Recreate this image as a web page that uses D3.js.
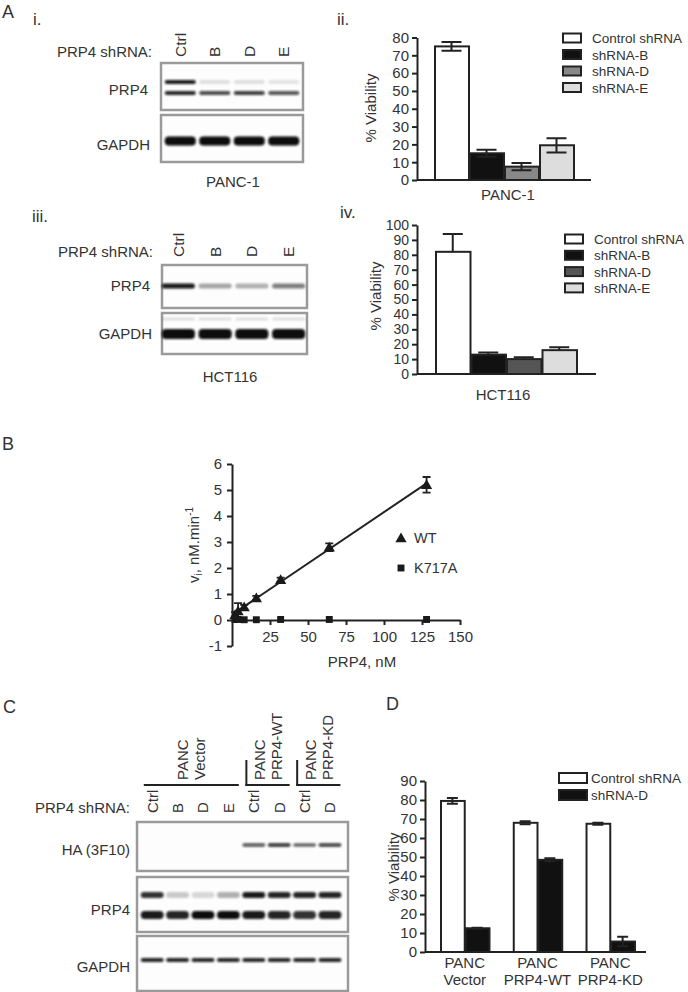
<!DOCTYPE html>
<html>
<head>
<meta charset="utf-8">
<script src="https://cdn.jsdelivr.net/npm/d3@7"></script>
<style>
body { margin: 0; background: #fff; }
text { font-family: "Liberation Sans", Arial, sans-serif; fill: #333; }
</style>
</head>
<body>
<svg id="fig" width="688" height="992"></svg>
<script>
// ---- data ----
const laneNamesA = ['Ctrl', 'B', 'D', 'E']
const legendA = ['Control shRNA', 'shRNA-B', 'shRNA-D', 'shRNA-E']
const panc1Viability = [75, 15, 7.5, 19.5]
const panc1Err = [2.5, 2, 2, 4]
const hctViability = [82, 13, 10, 16]
const hctErr = [12, 1.5, 1.3, 2]
const ticksA2 = [0, 10, 20, 30, 40, 50, 60, 70, 80]
const ticksA4 = [0, 10, 20, 30, 40, 50, 60, 70, 80, 90, 100]

// band intensities for blots (0..1)
const pancPrp4Upper = [0.95, 0.12, 0.12, 0.1]
const pancPrp4Lower = [0.9, 0.75, 0.8, 0.7]
const pancGapdh = [1, 1, 1, 1]
const hctPrp4 = [0.95, 0.35, 0.3, 0.5]
const hctGapdhFaint = [0.12, 0.12, 0.12, 0.12]
const hctGapdh = [1, 1, 1, 1]

const prp4Conc = [2, 4, 8, 16, 32, 64, 128]
const wtRate = [0.2, 0.35, 0.5, 0.85, 1.55, 2.8, 5.2]
const wtErr = [0.1, 0.3, 0.08, 0.08, 0.08, 0.15, 0.3]
const k717aRate = [0.02, 0.02, 0.01, 0.01, 0.02, 0.02, 0.02]
const ticksBx = [25, 50, 75, 100, 125, 150]
const ticksBy = [-1, 0, 1, 2, 3, 4, 5, 6]

const laneNamesC = ['Ctrl', 'B', 'D', 'E', 'Ctrl', 'D', 'Ctrl', 'D']
const groupsC = [['PANC', 'Vector'], ['PANC', 'PRP4-WT'], ['PANC', 'PRP4-KD']]
const groupLanesC = [[0, 3], [4, 5], [6, 7]]
const cHA = [0, 0, 0, 0, 0.7, 0.85, 0.6, 0.8]
const cPrp4Upper = [0.85, 0.2, 0.15, 0.3, 0.95, 0.9, 0.9, 0.9]
const cPrp4Lower = [0.95, 0.9, 1, 1, 0.95, 0.9, 0.85, 0.9]
const cGapdh = [0.9, 0.9, 0.9, 0.9, 0.9, 0.9, 0.9, 0.9]

const groupsD = ['PANC\nVector', 'PANC\nPRP4-WT', 'PANC\nPRP4-KD']
const legendD = ['Control shRNA', 'shRNA-D']
const dControl = [79.5, 68, 67.5]
const dControlErr = [1.5, 0.8, 0.5]
const dShD = [12.5, 48.5, 5.5]
const dShDErr = [0.3, 0.8, 2.5]
const ticksD = [0, 10, 20, 30, 40, 50, 60, 70, 80, 90]

// ---- drawing ----
const svg = d3.select('#fig')
const defs = svg.append('defs')
defs.append('filter').attr('id', 'blur')
  .attr('x', '-20%').attr('y', '-150%').attr('width', '140%').attr('height', '400%')
  .append('feGaussianBlur').attr('stdDeviation', 0.9)

function txt (x, y, s, size, anchor) {
  return svg.append('text').attr('x', x).attr('y', y)
    .attr('font-size', size).attr('text-anchor', anchor || 'start').text(s)
}

function vtxt (cx, bottom, s, size) {
  // rotated text reading upwards, bottom aligned
  svg.append('text')
    .attr('transform', 'translate(' + (cx + size * 0.36) + ',' + bottom + ') rotate(-90)')
    .attr('font-size', size).text(s)
}

function styleAxis (a, fs) {
  a.select('.domain').attr('stroke', '#222').attr('stroke-width', 2)
  a.selectAll('.tick line').attr('stroke', '#222').attr('stroke-width', 2)
  a.selectAll('.tick text').attr('font-size', fs || 14.5).attr('fill', '#333')
    .attr('font-family', '"Liberation Sans", Arial, sans-serif')
}

// panel letters
txt(2, 18, 'A', 18)
txt(33, 25, 'i.', 17)
txt(337, 25, 'ii.', 17)
txt(32, 222, 'iii.', 17)
txt(340, 218, 'iv.', 17)
txt(2, 450, 'B', 18)
txt(3, 713, 'C', 18)
txt(386, 710, 'D', 18)

// western blot box with bands
function blot (x, y, w, h, lanes, bands, range) {
  const lx = d3.scaleBand().domain(d3.range(lanes.length)).range(range).paddingInner(0.1).paddingOuter(0.05)
  svg.append('rect').attr('x', x).attr('y', y).attr('width', w).attr('height', h)
    .attr('fill', '#fdfdfd').attr('stroke', '#9a9a9a').attr('stroke-width', 2.5)
  bands.forEach(function (b) {
    svg.append('g').attr('filter', 'url(#blur)')
      .selectAll('rect').data(b.vals).enter().append('rect')
      .attr('x', function (d, i) { return lx(i) })
      .attr('y', y + b.y - b.h / 2)
      .attr('width', lx.bandwidth())
      .attr('height', b.h)
      .attr('rx', Math.min(b.h / 2, 4))
      .attr('fill', '#0a0a0a')
      .attr('opacity', function (d) { return d })
  })
  return lx
}

// A i
txt(152, 57, 'PRP4 shRNA:', 15, 'end')
let lxA1 = blot(161, 63, 142, 47, laneNamesA, [
  { y: 19, h: 4, vals: pancPrp4Upper },
  { y: 30, h: 4, vals: pancPrp4Lower }
], [163, 301])
blot(161, 115, 142, 47, laneNamesA, [{ y: 26, h: 9, vals: pancGapdh }], [163, 301])
laneNamesA.forEach(function (n, i) { vtxt(lxA1(i) + lxA1.bandwidth() / 2, 57, n, 15.5) })
txt(148, 95, 'PRP4', 15, 'end')
txt(150, 150, 'GAPDH', 15, 'end')
txt(233, 187, 'PANC-1', 15, 'middle')

// A iii
txt(153, 257, 'PRP4 shRNA:', 15, 'end')
let lxA3 = blot(162, 265, 145, 43, laneNamesA, [{ y: 21, h: 5, vals: hctPrp4 }], [160, 307])
blot(162, 313, 145, 41, laneNamesA, [
  { y: 6, h: 3, vals: hctGapdhFaint },
  { y: 21, h: 10, vals: hctGapdh }
], [160, 307])
laneNamesA.forEach(function (n, i) { vtxt(lxA3(i) + lxA3.bandwidth() / 2, 257, n, 15.5) })
txt(150, 291, 'PRP4', 15, 'end')
txt(152, 339, 'GAPDH', 15, 'end')
txt(230, 382, 'HCT116', 15, 'middle')

function errPath (cx, top, bot, cap, both) {
  let p = 'M' + cx + ',' + bot + 'V' + top + 'M' + (cx - cap / 2) + ',' + top + 'H' + (cx + cap / 2)
  if (both) p += 'M' + (cx - cap / 2) + ',' + bot + 'H' + (cx + cap / 2)
  return p
}

// bar chart helper
function barChart (o) {
  const y = d3.scaleLinear().domain([0, o.max]).range([o.y0, o.y1])
  const gx = d3.scaleBand().domain(o.groups).range(o.xr).paddingInner(o.pad || 0)
  const sx = d3.scaleBand().domain(o.series).range([0, gx.bandwidth()])
  const g = svg.append('g')
  g.append('line').attr('x1', o.ax).attr('x2', o.xEnd).attr('y1', y(0)).attr('y2', y(0))
    .attr('stroke', '#222').attr('stroke-width', 2)
  o.series.forEach(function (s, si) {
    const sg = g.append('g')
    const data = o.groups.map(function (gr, gi) { return { gr: gr, v: o.values[si][gi], e: o.errors[si][gi] } })
    function ep (d) {
      const cx = gx(d.gr) + sx(s) + sx.bandwidth() / 2
      return errPath(cx, y(d.v + d.e), o.errUp ? y(d.v) : y(d.v - d.e), o.cap, !o.errUp)
    }
    sg.selectAll('rect').data(data).enter().append('rect')
      .attr('x', function (d) { return gx(d.gr) + sx(s) + 1 })
      .attr('width', sx.bandwidth() - 1)
      .attr('y', function (d) { return y(d.v) })
      .attr('height', function (d) { return y(0) - y(d.v) })
      .attr('fill', o.fills[si]).attr('stroke', '#222').attr('stroke-width', 2)
    sg.selectAll('path').data(data).enter().append('path')
      .attr('d', ep)
      .attr('stroke', '#222').attr('stroke-width', 2).attr('fill', 'none')
  })
  const axis = g.append('g').attr('transform', 'translate(' + o.ax + ',0)')
    .call(d3.axisLeft(y).tickValues(o.ticks).tickSize(5).tickSizeOuter(0).tickPadding(3))
  styleAxis(axis, o.tickFont)
  svg.append('text')
    .attr('transform', 'translate(' + o.ylx + ',' + o.yly + ') rotate(-90)')
    .attr('font-size', 15).attr('text-anchor', 'middle').text('% Viability')
  return gx
}

function legend (x, y0, step, names, fills, w, h, gap) {
  names.forEach(function (n, i) {
    svg.append('rect').attr('x', x).attr('y', y0 + i * step - h / 2).attr('width', w).attr('height', h)
      .attr('fill', fills[i]).attr('stroke', '#222').attr('stroke-width', 2)
    txt(x + w + gap, y0 + i * step + 5, n, 13.5)
  })
}

// A ii
const fillsA2 = ['#fff', '#111', '#888', '#ddd']
barChart({
  groups: ['PANC-1'], series: legendA, values: panc1Viability.map(function (v) { return [v] }),
  errors: panc1Err.map(function (v) { return [v] }), fills: fillsA2,
  max: 80, ticks: ticksA2, y0: 180, y1: 37.5, xr: [434, 574], ax: 417, xEnd: 591, cap: 20,
  ylx: 376, yly: 108, tickFont: 15
})
legend(563, 38, 16.5, legendA, fillsA2, 18, 9, 11)
txt(508, 200, 'PANC-1', 15, 'middle')

// A iv
const fillsA4 = ['#fff', '#111', '#555', '#ddd']
barChart({
  groups: ['HCT116'], series: legendA, values: hctViability.map(function (v) { return [v] }),
  errors: hctErr.map(function (v) { return [v] }), fills: fillsA4,
  max: 100, ticks: ticksA4, y0: 374, y1: 225, xr: [435, 577], ax: 417, xEnd: 596, cap: 20, errUp: true,
  ylx: 381, yly: 296, tickFont: 14
})
legend(565, 239, 16.3, legendA, fillsA4, 18, 9, 11)
txt(503, 400, 'HCT116', 15, 'middle')

// B
const bx = d3.scaleLinear().domain([0, 150]).range([232, 460])
const by = d3.scaleLinear().domain([-1, 6]).range([646, 464])
const gb = svg.append('g')
const yAxB = gb.append('g').attr('transform', 'translate(232,0)')
  .call(d3.axisLeft(by).tickValues(ticksBy).tickFormat(function (d) { return String(d) })
    .tickSize(5).tickSizeOuter(0).tickPadding(5))
const xAxB = gb.append('g').attr('transform', 'translate(0,' + by(0) + ')')
  .call(d3.axisBottom(bx).tickValues(ticksBx).tickSize(5).tickSizeOuter(0).tickPadding(6))
styleAxis(yAxB, 15)
styleAxis(xAxB, 15)
// linear fit for WT
const mx = d3.mean(prp4Conc)
const my = d3.mean(wtRate)
const slope = d3.sum(prp4Conc, function (c, i) { return (c - mx) * (wtRate[i] - my) }) /
  d3.sum(prp4Conc, function (c) { return (c - mx) * (c - mx) })
const icpt = my - slope * mx
const xmin = d3.min(prp4Conc)
const xmax = d3.max(prp4Conc)
gb.append('line').attr('x1', bx(xmin)).attr('x2', bx(xmax))
  .attr('y1', by(icpt + slope * xmin)).attr('y2', by(icpt + slope * xmax))
  .attr('stroke', '#222').attr('stroke-width', 2)
gb.selectAll('path.werr').data(prp4Conc).enter().append('path')
  .attr('d', function (c, i) {
    return errPath(bx(c), by(wtRate[i] + wtErr[i]), by(wtRate[i] - wtErr[i]), 8, true)
  })
  .attr('stroke', '#222').attr('stroke-width', 1.8).attr('fill', 'none')
const tri = d3.symbol().type(d3.symbolTriangle).size(55)
const sq = d3.symbol().type(d3.symbolSquare).size(48)
gb.selectAll('path.k').data(prp4Conc).enter().append('path')
  .attr('transform', function (c, i) { return 'translate(' + bx(c) + ',' + by(k717aRate[i]) + ')' })
  .attr('d', sq).attr('fill', '#1a1a1a')
gb.selectAll('path.w').data(prp4Conc).enter().append('path')
  .attr('transform', function (c, i) { return 'translate(' + bx(c) + ',' + (by(wtRate[i]) + 1) + ')' })
  .attr('d', tri).attr('fill', '#1a1a1a')
gb.append('path').attr('transform', 'translate(401,539)').attr('d', tri).attr('fill', '#1a1a1a')
txt(414, 543, 'WT', 14.5)
gb.append('path').attr('transform', 'translate(401,568)').attr('d', sq).attr('fill', '#1a1a1a')
txt(414, 573, 'K717A', 14.5)
txt(362, 667, 'PRP4, nM', 15, 'middle')
const ylb = svg.append('text').attr('transform', 'translate(199,545) rotate(-90)')
  .attr('font-size', 15).attr('text-anchor', 'middle')
ylb.append('tspan').text('v')
ylb.append('tspan').attr('font-size', 10).attr('dy', 3).text('i')
ylb.append('tspan').attr('dy', -3).text(', nM.min')
ylb.append('tspan').attr('font-size', 10).attr('dy', -6).text('-1')

// C
txt(130, 813, 'PRP4 shRNA:', 15, 'end')
const rangeC = [139.5, 342.7]
const lxC = blot(137, 822, 211, 49, laneNamesC, [{ y: 23, h: 3.5, vals: cHA }], rangeC)
blot(137, 877, 211, 55, laneNamesC, [
  { y: 18, h: 6, vals: cPrp4Upper },
  { y: 38, h: 8, vals: cPrp4Lower }
], rangeC)
blot(137, 936, 211, 55, laneNamesC, [{ y: 24, h: 4, vals: cGapdh }], rangeC)
laneNamesC.forEach(function (n, i) { vtxt(lxC(i) + lxC.bandwidth() / 2, 813, n, 15) })
txt(130, 855, 'HA (3F10)', 15, 'end')
txt(130, 915, 'PRP4', 15, 'end')
txt(130, 972, 'GAPDH', 15, 'end')
groupLanesC.forEach(function (gl, gi) {
  const x1 = lxC(gl[0]) + 3
  const x2 = lxC(gl[1]) + lxC.bandwidth() - 1
  svg.append('line').attr('x1', x1).attr('x2', x2).attr('y1', 785).attr('y2', 785)
    .attr('stroke', '#222').attr('stroke-width', 2.2)
  if (gi > 0) {
    svg.append('line').attr('x1', x1 + 1).attr('x2', x1 + 1).attr('y1', 760).attr('y2', 786)
      .attr('stroke', '#222').attr('stroke-width', 2)
  }
  const cx = (x1 + x2) / 2 + (gi > 0 ? 1 : 0)
  vtxt(cx - 8.5, 780, groupsC[gi][0], 15)
  vtxt(cx + 8.5, 780, groupsC[gi][1], 15)
})

// D
const gxD = barChart({
  groups: groupsD, series: legendD, values: [dControl, dShD], errors: [dControlErr, dShDErr],
  fills: ['#fff', '#111'], max: 90, ticks: ticksD, y0: 952, y1: 781, xr: [440, 635], pad: 0.32,
  ax: 425, xEnd: 646, cap: 11, ylx: 399, yly: 867, tickFont: 15
})
legend(559, 778, 17, legendD, ['#fff', '#111'], 28, 10, 4)
groupsD.forEach(function (gname) {
  const lines = gname.split('\n')
  const cx = gxD(gname) + gxD.bandwidth() / 2
  txt(cx, 968, lines[0], 15, 'middle')
  txt(cx, 985, lines[1], 15, 'middle')
})
</script>
</body>
</html>
